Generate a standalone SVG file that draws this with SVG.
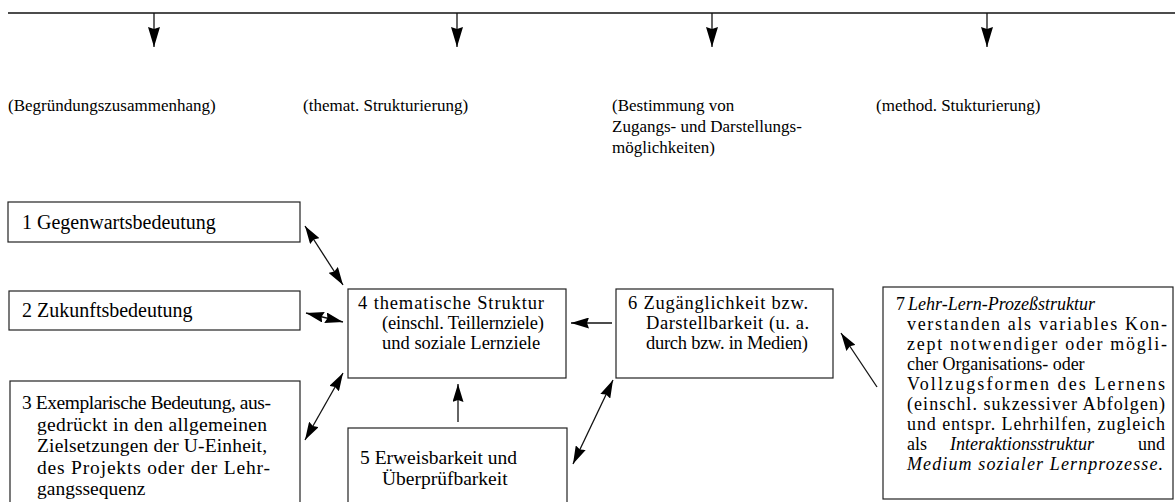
<svg xmlns="http://www.w3.org/2000/svg" width="1175" height="502" viewBox="0 0 1175 502">
<style>
.t{font-family:"Liberation Serif","Times New Roman",serif;font-size:18px;fill:#000}
.l{font-size:20px}
.m{font-size:19.5px}
.n{font-size:18.5px}
.h{font-family:"Liberation Serif","Times New Roman",serif;font-size:17px;fill:#000}
.i{font-style:italic}
.box{fill:#fff;stroke:#222;stroke-width:1.2}
.ln{fill:none;stroke:#111;stroke-width:1.3}
</style>
<defs>
<marker id="ah" markerUnits="userSpaceOnUse" markerWidth="18" markerHeight="11" refX="18" refY="5.5" orient="auto-start-reverse" viewBox="0 0 18 11">
<path d="M0,0 L18,5.5 L0,11 L2,5.5 Z" fill="#000"/>
</marker>
<marker id="ahTop" markerUnits="userSpaceOnUse" markerWidth="20" markerHeight="12" refX="20" refY="6" orient="auto" viewBox="0 0 20 12">
<path d="M0,0 L20,6 L0,12 L2,6 Z" fill="#000"/>
</marker>
</defs>

<g id="top-bar">
<line class="ln" x1="8" y1="13" x2="1175" y2="13"/>
</g>

<g id="headers">
<text class="h" x="8" y="111">(Begründungszusammenhang)</text>
<text class="h" x="303" y="111">(themat. Strukturierung)</text>
<text class="h" x="612" y="111">(Bestimmung von</text>
<text class="h" x="612" y="132">Zugangs- und Darstellungs-</text>
<text class="h" x="612" y="153">möglichkeiten)</text>
<text class="h" x="876" y="111">(method. Stukturierung)</text>
</g>

<g id="node1">
<rect class="box" x="8" y="202" width="292" height="40"/>
<text class="t l" x="22" y="229">1  Gegenwartsbedeutung</text>
</g>

<g id="node2">
<rect class="box" x="9" y="291" width="291" height="39"/>
<text class="t l" x="22" y="317">2  Zukunftsbedeutung</text>
</g>

<g id="node3">
<rect class="box" x="10" y="381" width="290" height="130"/>
<text class="t m" x="22" y="409" textLength="249" lengthAdjust="spacing">3 Exemplarische Bedeutung, aus-</text>
<text class="t m" x="37" y="430.5" textLength="230" lengthAdjust="spacing">gedrückt in den allgemeinen</text>
<text class="t m" x="37" y="452" textLength="230" lengthAdjust="spacing">Zielsetzungen der U-Einheit,</text>
<text class="t m" x="37" y="473.5" textLength="233" lengthAdjust="spacing">des Projekts oder der Lehr-</text>
<text class="t m" x="37" y="495">gangssequenz</text>
</g>

<g id="node4">
<rect class="box" x="348" y="289" width="218" height="89"/>
<text class="t n" x="358" y="309" textLength="186" lengthAdjust="spacing">4 thematische Struktur</text>
<text class="t n" x="382" y="329" textLength="162" lengthAdjust="spacing">(einschl. Teillernziele)</text>
<text class="t n" x="382" y="349">und soziale Lernziele</text>
</g>

<g id="node5">
<rect class="box" x="348" y="428" width="219" height="90"/>
<text class="t m" x="360" y="464">5 Erweisbarkeit und</text>
<text class="t m" x="382" y="485">Überprüfbarkeit</text>
</g>

<g id="node6">
<rect class="box" x="616" y="289" width="217" height="89"/>
<text class="t n" x="628" y="309" textLength="180" lengthAdjust="spacing">6 Zugänglichkeit bzw.</text>
<text class="t n" x="646" y="329" textLength="163" lengthAdjust="spacing">Darstellbarkeit (u. a.</text>
<text class="t n" x="646" y="349" textLength="162" lengthAdjust="spacing">durch bzw. in Medien)</text>
</g>

<g id="node7">
<rect class="box" x="883" y="287" width="290" height="212"/>
<text class="t" x="896" y="310">7</text>
<text class="t i" x="908" y="310">Lehr-Lern-Prozeßstruktur</text>
<text class="t" x="907" y="330" textLength="260" lengthAdjust="spacing">verstanden als variables Kon-</text>
<text class="t" x="907" y="350" textLength="260" lengthAdjust="spacing">zept notwendiger oder mögli-</text>
<text class="t" x="907" y="370">cher Organisations- oder</text>
<text class="t" x="907" y="390" textLength="258" lengthAdjust="spacing">Vollzugsformen des Lernens</text>
<text class="t" x="907" y="410" textLength="258" lengthAdjust="spacing">(einschl. sukzessiver Abfolgen)</text>
<text class="t" x="907" y="430" textLength="258" lengthAdjust="spacing">und entspr. Lehrhilfen, zugleich</text>
<text class="t" x="907" y="450">als</text>
<text class="t i" x="950" y="450">Interaktionsstruktur</text>
<text class="t" x="1165" y="450" text-anchor="end">und</text>
<text class="t i" x="907" y="470" textLength="256" lengthAdjust="spacing">Medium sozialer Lernprozesse.</text>
</g>

<g id="connectors">
<line class="ln" x1="154" y1="13" x2="154" y2="47" marker-end="url(#ahTop)"/>
<line class="ln" x1="457" y1="13" x2="457" y2="47" marker-end="url(#ahTop)"/>
<line class="ln" x1="712" y1="13" x2="712" y2="47" marker-end="url(#ahTop)"/>
<line class="ln" x1="987" y1="13" x2="987" y2="47" marker-end="url(#ahTop)"/>
<line class="ln" x1="305" y1="226" x2="343" y2="285" marker-start="url(#ah)" marker-end="url(#ah)"/>
<line class="ln" x1="306" y1="313" x2="343" y2="322" marker-start="url(#ah)" marker-end="url(#ah)"/>
<line class="ln" x1="343" y1="373" x2="305" y2="440" marker-start="url(#ah)" marker-end="url(#ah)"/>
<line class="ln" x1="612" y1="323" x2="571" y2="323" marker-end="url(#ah)"/>
<line class="ln" x1="458" y1="422" x2="458" y2="384" marker-end="url(#ah)"/>
<line class="ln" x1="573" y1="464" x2="613" y2="380" marker-start="url(#ah)" marker-end="url(#ah)"/>
<line class="ln" x1="877" y1="387" x2="841" y2="333" marker-end="url(#ah)"/>
</g>
</svg>
